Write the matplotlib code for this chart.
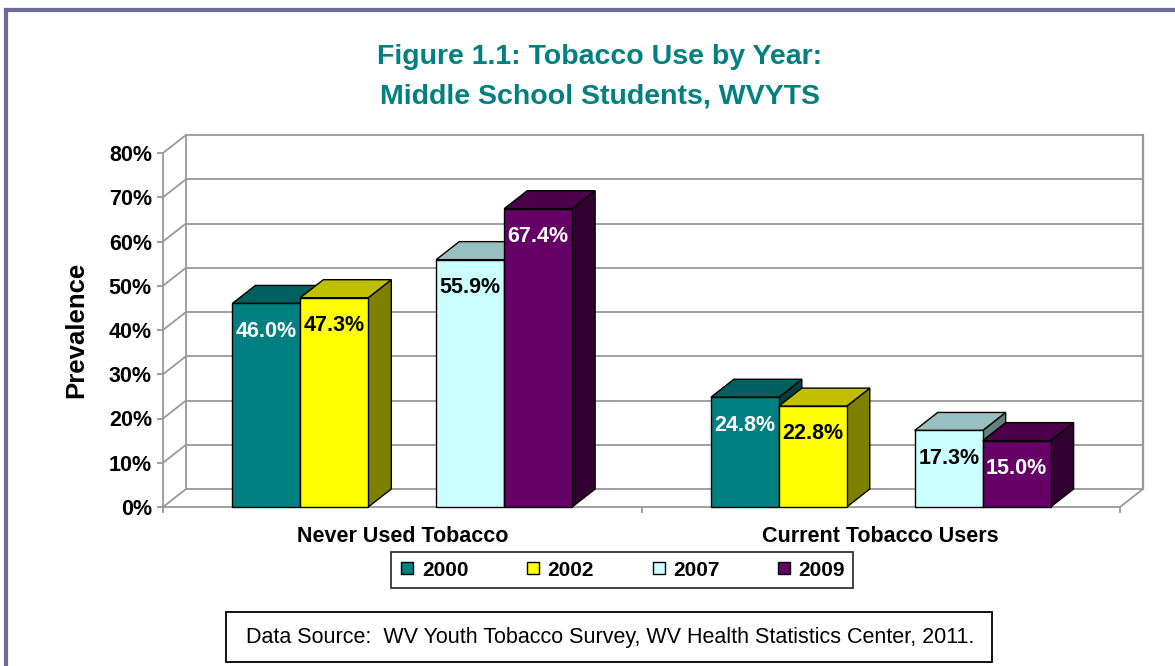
import matplotlib.pyplot as plt
from matplotlib.patches import Rectangle, Polygon
from matplotlib.lines import Line2D

# -----------------------------------------------------------
# Data
# -----------------------------------------------------------
categories = ["Never Used Tobacco", "Current Tobacco Users"]
years = ["2000", "2002", "2007", "2009"]
v2000 = [46.0, 24.8]
v2002 = [47.3, 22.8]
v2007 = [55.9, 17.3]
v2009 = [67.4, 15.0]
yticks = [0, 10, 20, 30, 40, 50, 60, 70, 80]
source = "Data Source:  WV Youth Tobacco Survey, WV Health Statistics Center, 2011."

series = [v2000, v2002, v2007, v2009]

# front, top, side, label colour
styles = [
    ("#008080", "#006060", "#004040", "white"),
    ("#FFFF00", "#C0C000", "#808000", "black"),
    ("#CCFFFF", "#99C0C0", "#668080", "black"),
    ("#660066", "#4C004C", "#330033", "white"),
]

plt.rcParams['font.family'] = ['Liberation Sans', 'DejaVu Sans']

W, H = 1175, 666
fig = plt.figure(figsize=(W / 100, H / 100), dpi=100)
ax = fig.add_axes([163 / W, 1 - 507 / H, 957 / W, 354 / H])
ax.set_xlim(0, 2)
ax.set_ylim(0, 80)

# 3d depth offset in data units (pixels -> data)
dx = 23 / (957 / 2)
dy = 18 / (354 / 80)
grid = "#999999"

# -----------------------------------------------------------
# walls and floor
# -----------------------------------------------------------
for t in yticks:
    ax.plot([dx, 2 + dx], [t + dy, t + dy], color=grid, lw=1.3, zorder=0, clip_on=False)
    ax.plot([0, dx], [t, t + dy], color=grid, lw=1.3, zorder=0, clip_on=False)
ax.plot([dx, dx], [dy, 80 + dy], color=grid, lw=1.3, zorder=0, clip_on=False)
ax.plot([2 + dx, 2 + dx], [dy, 80 + dy], color=grid, lw=1.6, zorder=0, clip_on=False)
ax.plot([2, 2 + dx], [0, dy], color=grid, lw=1.3, zorder=0, clip_on=False)

# -----------------------------------------------------------
# 3d bars
# -----------------------------------------------------------
bw = 0.142
slots = [-2.5, -1.5, 0.5, 1.5]
z = 2
for g in range(len(categories)):
    center = g + 0.5
    for s, vals in enumerate(series):
        v = vals[g]
        front, top, side, lab = styles[s]
        x = center + slots[s] * bw
        ax.add_patch(Polygon([(x + bw, 0), (x + bw, v), (x + bw + dx, v + dy), (x + bw + dx, dy)],
                             closed=True, facecolor=side, edgecolor="black", lw=1, zorder=z, clip_on=False))
        ax.add_patch(Polygon([(x, v), (x + dx, v + dy), (x + bw + dx, v + dy), (x + bw, v)],
                             closed=True, facecolor=top, edgecolor="black", lw=1, zorder=z, clip_on=False))
        ax.add_patch(Rectangle((x, 0), bw, v, facecolor=front, edgecolor="black", lw=1,
                               zorder=z, clip_on=False))
        z += 1
        ax.annotate(f"{v:.1f}%", xy=(x + bw / 2, v), xytext=(0, -20), textcoords="offset points",
                    ha="center", va="center", fontsize=15.5, fontweight="bold", color=lab, zorder=50)

# -----------------------------------------------------------
# axes
# -----------------------------------------------------------
for sp in ["top", "right"]:
    ax.spines[sp].set_visible(False)
for sp in ["left", "bottom"]:
    ax.spines[sp].set_color(grid)
    ax.spines[sp].set_linewidth(1.3)
    ax.spines[sp].set_zorder(1)

ax.set_yticks(yticks)
ax.set_yticklabels([f"{t}%" for t in yticks], fontsize=15.5, fontweight="bold")
ax.tick_params(axis="y", colors=grid, labelcolor="black", length=4, width=1.3, pad=4)
ax.set_xticks([0, 1, 2])
ax.set_xticklabels([])
ax.tick_params(axis="x", which="major", colors=grid, length=4, width=1.3)
ax.set_xticks([0.5, 1.5], minor=True)
ax.set_xticklabels(categories, minor=True, fontsize=15.5, fontweight="bold")
ax.tick_params(axis="x", which="minor", length=0, pad=14, labelcolor="black")
ax.set_ylabel("Prevalence", fontsize=18.5, fontweight="bold")
ax.yaxis.set_label_coords(-0.078, 0.5)
ax.patch.set_visible(False)

# -----------------------------------------------------------
# title, legend, source
# -----------------------------------------------------------
teal = "#008080"
fig.text(600 / W, 1 - 57 / H, "Figure 1.1: Tobacco Use by Year:", ha="center", va="center",
         fontsize=20.5, fontweight="bold", color=teal)
fig.text(600 / W, 1 - 97 / H, "Middle School Students, WVYTS", ha="center", va="center",
         fontsize=20.5, fontweight="bold", color=teal)

handles = [Line2D([], [], marker="s", linestyle="none", markersize=8.5, markerfacecolor=st[0],
                  markeredgecolor="black", markeredgewidth=1) for st in styles]
leg = fig.legend(handles, years, loc="center", bbox_to_anchor=(622 / W, 1 - 570 / H), ncol=4,
                 frameon=True, fancybox=False, edgecolor="black", handlelength=0.8,
                 handletextpad=0.3, columnspacing=2.7, borderpad=0.4,
                 prop={"size": 15, "weight": "bold"})
leg.get_frame().set_linewidth(1.3)

fig.add_artist(Rectangle((226 / W, 1 - 662 / H), 766 / W, 50 / H, transform=fig.transFigure,
                         facecolor="white", edgecolor="black", lw=1.3))
fig.text(610 / W, 1 - 637 / H, source, ha="center", va="center", fontsize=15.5)

# outer frame (top and left edge visible)
frame = "#6B6B9B"
fig.add_artist(Line2D([6 / W, 1], [1 - 10 / H, 1 - 10 / H], color=frame, lw=3, transform=fig.transFigure))
fig.add_artist(Line2D([6 / W, 6 / W], [0, 1 - 10 / H], color=frame, lw=3, transform=fig.transFigure))

fig.savefig("out.png", dpi=100)
